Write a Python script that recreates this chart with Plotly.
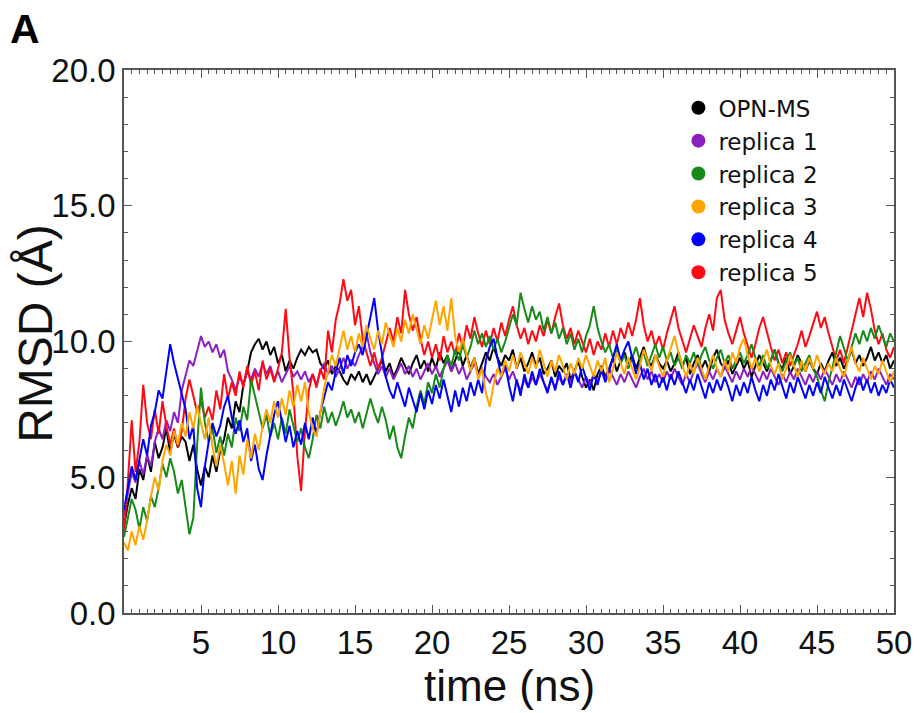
import plotly.graph_objects as go

# ---- data (RMSD in Å, sampled every 0.25 ns from 0 to 50 ns) ----
time_step_ns = 0.25
series_names = ["OPN-MS", "replica 1", "replica 2", "replica 3", "replica 4", "replica 5"]
series_colors = ["#000000", "#8B1FBF", "#178A17", "#FFA500", "#0000FF", "#FF0A14"]

opn_ms = [
    3.2, 4.0, 4.6, 4.2, 5.3, 4.9, 5.8, 5.2, 6.3, 5.7, 6.1, 6.8, 5.9, 6.6, 6.1, 6.5, 6.3, 5.6, 6.2, 5.3,
    4.7, 5.4, 5.0, 5.8, 5.2, 6.0, 6.4, 7.2, 6.8, 7.8, 7.4, 8.4, 8.9, 9.6, 9.9, 10.1, 9.7, 10.0, 9.5, 9.8,
    9.2, 9.5, 8.9, 9.3, 9.0, 9.4, 9.7, 9.5, 9.8, 9.6, 9.7, 9.2, 9.0, 9.3, 8.8, 9.1, 8.9, 8.6, 8.4, 8.8,
    8.6, 8.9, 8.5, 8.8, 8.4, 8.7, 9.0, 9.3, 8.9, 9.2, 8.7, 9.0, 9.4, 9.1, 8.8, 9.2, 9.5, 9.0, 9.3, 8.9,
    9.4, 9.0, 9.6, 9.2, 9.5, 8.9, 9.3, 9.7, 9.1, 9.5, 9.0, 9.4, 8.8, 9.2, 9.6, 9.3, 9.8, 9.4, 9.1, 9.5,
    9.3, 9.7, 9.0, 9.4, 8.9, 9.2, 9.6, 9.1, 9.4, 8.8, 9.0, 9.3, 8.7, 9.1, 8.9, 9.2, 8.6, 8.9, 9.3, 8.7,
    8.3, 8.6, 8.2, 8.8, 9.1, 8.7, 9.0, 9.4, 8.9, 9.3, 9.6, 9.2, 9.5, 9.0, 9.4, 9.8, 9.3, 9.1, 9.5, 9.2,
    9.0, 9.3, 8.9, 9.2, 9.6, 9.1, 9.4, 8.8, 9.2, 9.5, 9.0, 9.3, 8.9, 9.4, 9.7, 9.2, 9.0, 9.3, 8.8, 9.1,
    9.4, 9.0, 9.3, 8.7, 9.1, 9.5, 9.2, 8.9, 9.3, 9.7, 9.2, 9.0, 9.4, 8.8, 9.1, 9.5, 9.2, 8.9, 9.3, 9.0,
    8.8, 9.2, 8.9, 9.3, 9.6, 9.1, 9.4, 9.0, 9.3, 9.7, 9.2, 9.5, 9.1, 9.4, 9.8, 9.3, 9.6, 9.2, 9.5, 9.0, 9.3,
]

replica_1 = [
    3.6, 4.4, 5.2, 4.8, 5.6, 5.1, 5.8, 5.4, 6.3, 6.8, 6.4, 7.1, 6.7, 7.4, 7.0, 8.2, 8.8, 9.3, 9.1, 9.7,
    10.2, 9.8, 10.0, 9.6, 9.9, 9.4, 9.7, 8.9, 8.6, 8.2, 8.7, 8.4, 8.9, 8.6, 9.0, 8.7, 9.2, 8.8, 9.1, 8.6,
    8.9, 8.5, 8.8, 9.1, 8.7, 8.9, 8.6, 8.9, 8.5, 8.8, 8.4, 8.9, 9.2, 8.8, 9.1, 8.7, 9.0, 9.4, 9.0, 9.3,
    9.1, 9.5, 9.8, 10.3, 9.6, 9.2, 8.8, 9.1, 8.7, 9.0, 8.6, 8.9, 9.2, 8.8, 9.1, 8.7, 9.0, 8.6, 8.9, 9.2,
    8.8, 9.1, 8.7, 9.0, 9.3, 8.9, 9.2, 8.8, 9.1, 8.6, 8.9, 9.2, 8.8, 9.0, 8.7, 8.5, 8.8, 8.4, 8.7, 9.0,
    8.6, 8.9, 8.5, 8.2, 8.6, 8.3, 8.7, 8.4, 8.8, 8.5, 8.2, 8.6, 8.3, 8.7, 8.4, 8.8, 8.5, 8.9, 8.6, 8.3,
    8.7, 8.4, 8.8, 8.5, 8.9, 8.6, 9.0, 8.7, 8.4, 8.8, 8.5, 8.9, 8.6, 8.3, 8.7, 9.0, 8.6, 8.9, 8.5, 8.8,
    8.5, 8.9, 8.6, 9.0, 8.7, 8.4, 8.8, 8.5, 8.9, 9.2, 8.8, 8.5, 8.9, 8.6, 9.0, 8.7, 9.1, 8.8, 8.5, 8.9,
    8.6, 9.0, 8.7, 9.1, 8.8, 8.5, 8.9, 8.6, 9.0, 8.7, 8.4, 8.8, 8.5, 8.9, 8.6, 9.0, 8.7, 8.4, 8.8, 8.5,
    8.9, 8.6, 9.0, 8.7, 8.4, 8.8, 8.5, 8.9, 8.6, 8.3, 8.7, 8.4, 8.8, 8.5, 8.9, 8.6, 9.0, 8.7, 8.4, 8.8, 8.6,
]

replica_2 = [
    2.8, 3.5, 4.2, 3.8, 3.1, 3.9, 3.4, 4.3, 3.9, 4.6, 5.5, 5.0, 5.7, 5.2, 4.4, 4.9, 3.8, 2.9, 3.5, 6.2,
    8.3, 7.0, 6.3, 6.8, 5.9, 6.5, 5.8, 6.6, 6.1, 7.2, 6.7, 7.6, 7.1, 8.6, 8.0, 7.4, 6.8, 7.3, 6.5, 7.0,
    6.4, 7.2, 6.6, 7.5, 6.9, 6.3, 6.8, 6.1, 5.7, 6.4, 7.3, 6.8, 7.6, 7.0, 7.4, 6.9, 7.3, 7.8, 7.2, 7.5,
    7.0, 7.4, 6.8, 7.3, 7.9, 7.4, 7.0, 7.6, 7.1, 6.4, 6.9, 6.1, 5.7, 6.5, 7.2, 6.8, 7.6, 8.2, 7.7, 8.5,
    8.1, 8.8, 8.3, 9.0, 9.5, 9.1, 9.7, 9.3, 9.9, 9.4, 9.8, 10.4, 9.9, 10.3, 9.8, 10.2, 9.7, 10.1, 9.6, 10.0,
    10.5, 11.0, 10.6, 11.8, 11.2, 10.7, 11.3, 10.8, 11.1, 10.4, 10.9, 10.3, 10.7, 10.1, 10.5, 9.9, 10.3, 9.7, 10.1, 9.6,
    10.2, 10.6, 11.3, 10.5, 10.0, 9.6, 9.9, 9.4, 9.7, 9.2, 9.5, 9.0, 9.4, 9.8, 9.3, 9.6, 9.1, 9.5, 9.9, 9.4,
    9.8, 9.3, 9.6, 9.1, 9.4, 9.0, 9.5, 9.2, 9.6, 9.1, 9.5, 9.8, 9.3, 9.0, 9.4, 9.7, 9.2, 9.5, 9.0, 9.3,
    9.6, 9.2, 9.5, 9.9, 9.4, 9.1, 9.5, 9.0, 9.3, 9.7, 9.2, 8.9, 9.3, 9.6, 9.1, 9.4, 8.9, 9.2, 9.5, 9.0,
    8.7, 8.2, 7.8, 8.5, 9.0, 9.6, 10.2, 9.7, 9.3, 9.8, 10.3, 9.9, 10.4, 10.0, 10.5, 10.1, 10.6, 10.2, 9.8, 10.3, 10.0,
]

replica_3 = [
    2.6, 2.3, 3.0, 2.5, 3.2, 2.7, 3.4, 4.3, 5.0, 4.5, 5.6, 6.2, 5.8, 6.7, 6.2, 7.0, 6.5, 7.4, 6.8, 7.6,
    7.0, 6.4, 7.2, 6.1, 5.4, 6.2, 5.5, 4.7, 5.6, 4.4, 5.8, 5.1, 6.4, 5.7, 6.6, 6.0, 6.9, 7.5, 7.0, 7.8,
    7.2, 7.9, 7.3, 8.2, 7.6, 8.4, 7.8, 8.5, 7.4, 6.8, 6.5, 7.4, 8.3, 8.9, 9.5, 9.1, 9.8, 10.4, 9.7, 10.2,
    9.6, 10.3, 9.8, 10.6, 10.1, 9.7, 10.4, 9.9, 10.7, 10.2, 9.8, 10.5, 10.0, 10.8, 10.3, 11.0, 10.4, 9.9, 10.6, 10.1,
    10.8, 11.5, 10.6, 11.3, 10.4, 11.6, 10.2, 9.6, 10.1, 9.5, 8.9, 9.4, 8.6, 9.0, 8.1, 7.6, 8.4, 9.0, 8.7, 9.3,
    8.9, 9.5, 9.0, 9.6, 9.2, 8.8, 9.4, 9.0, 9.7, 9.2, 8.7, 9.3, 8.9, 9.5, 9.1, 8.6, 9.2, 8.8, 9.4, 9.0,
    9.5, 9.1, 8.7, 9.3, 8.9, 9.4, 8.5, 9.0, 9.6, 9.2, 8.8, 9.4, 9.0, 8.6, 9.1, 9.7, 9.3, 8.9, 9.5, 9.1,
    8.7, 9.3, 9.8, 10.2, 9.6, 9.1, 8.7, 9.2, 8.8, 9.4, 9.0, 8.6, 9.1, 9.5, 9.0, 8.7, 9.3, 8.9, 9.6, 9.2,
    9.8, 10.1, 9.5, 9.0, 9.4, 8.9, 9.3, 9.7, 9.1, 8.8, 9.2, 8.6, 9.0, 9.5, 9.1, 8.7, 9.3, 8.9, 9.4, 9.0,
    9.5, 9.1, 8.8, 9.2, 8.9, 9.4, 9.0, 8.7, 9.3, 9.8, 9.2, 8.9, 9.4, 9.0, 8.6, 9.1, 8.8, 9.3, 8.9, 8.5, 8.9,
]

replica_4 = [
    3.8, 4.6, 5.4, 4.9, 5.6, 6.4, 5.8, 6.9, 7.4, 8.2, 7.9, 9.0, 9.9, 9.2, 8.6, 8.1, 7.5, 6.4, 6.9, 4.6,
    3.9, 5.4, 6.3, 7.0, 6.5, 6.9, 7.6, 8.0, 7.2, 6.6, 7.1, 6.3, 6.8, 5.6, 6.2, 5.3, 4.9, 5.8, 6.5, 7.3,
    7.8, 7.0, 6.3, 6.9, 6.1, 6.7, 6.2, 7.0, 6.4, 7.2, 6.6, 7.4, 7.9, 8.5, 8.2, 8.9, 9.4, 8.8, 9.5, 9.1,
    9.6, 9.9, 9.5, 10.2, 10.8, 11.6, 10.4, 9.5, 8.7, 8.2, 7.9, 8.5, 8.0, 7.6, 8.3, 7.8, 7.4, 8.1, 7.5, 8.2,
    7.7, 8.4, 7.9, 8.6, 8.0, 7.4, 8.2, 7.6, 8.3, 7.8, 8.5, 8.0, 8.6, 8.1, 9.3, 9.8, 10.1, 9.4, 8.7, 9.2,
    8.4, 7.8, 8.6, 8.0, 8.8, 8.3, 8.9, 8.4, 9.0, 8.5, 8.1, 8.7, 8.2, 8.9, 8.4, 8.8, 8.3, 8.9, 8.5, 9.1,
    8.6, 8.2, 8.8, 8.4, 9.0, 8.5, 8.9, 9.4, 9.9, 9.3, 9.7, 10.0, 9.4, 8.8, 9.2, 8.6, 9.0, 8.4, 8.8, 8.3,
    8.7, 8.2, 8.8, 8.4, 8.9, 8.5, 8.1, 8.6, 8.2, 8.8, 8.3, 7.9, 8.5, 8.1, 8.6, 8.2, 8.7, 8.3, 7.8, 8.4,
    8.0, 8.5, 8.1, 8.7, 8.2, 7.8, 8.4, 8.0, 8.6, 8.2, 8.8, 8.3, 7.9, 8.5, 8.1, 8.7, 8.3, 7.9, 8.4, 8.0,
    8.5, 8.1, 8.7, 8.3, 7.9, 8.4, 8.0, 8.6, 8.2, 7.8, 8.3, 8.7, 8.2, 8.6, 8.1, 8.5, 8.0, 8.4, 8.1, 8.6, 8.3,
]

replica_5 = [
    3.0, 4.8, 7.1, 5.2, 6.3, 8.4, 7.0, 6.4, 7.5, 6.6, 7.8, 6.9, 6.2, 6.8, 6.1, 6.7, 7.9, 8.6, 8.0, 7.4,
    7.8, 7.2, 7.6, 7.1, 8.2, 7.5, 8.8, 7.9, 8.5, 8.0, 8.9, 8.3, 9.1, 8.4, 8.9, 8.2, 9.3, 8.6, 9.0, 8.5,
    9.0, 9.6, 11.2, 9.4, 8.1, 5.8, 4.5, 6.7, 8.2, 8.8, 8.3, 9.0, 8.6, 10.4, 9.6, 10.8, 11.4, 12.3, 11.5, 11.9,
    10.6, 11.3, 10.1, 9.6, 9.1, 9.6, 9.0, 9.4, 9.9, 10.5, 10.0, 10.9, 10.3, 11.9, 11.0, 10.4, 10.9, 10.1, 9.5, 10.0,
    9.4, 9.9, 9.3, 10.2, 9.6, 10.0, 9.5, 10.3, 9.8, 10.6, 10.1, 10.9, 10.3, 9.8, 10.4, 9.9, 10.5, 10.0, 10.7, 10.2,
    10.8, 11.3, 10.6, 10.1, 10.5, 9.9, 10.4, 10.0, 10.6, 10.2, 10.8, 10.3, 10.9, 11.4, 10.6, 10.1, 10.5, 9.9, 10.4, 10.0,
    9.6, 10.1, 9.5, 10.0, 9.7, 10.3, 9.8, 10.4, 9.9, 10.5, 10.1, 10.7, 10.2, 10.8, 11.6, 10.6, 10.0, 10.4, 9.8, 10.2,
    9.7, 10.3, 10.8, 11.3, 10.5, 10.0, 9.6, 10.1, 10.6, 10.2, 9.8, 10.5, 11.0, 10.4, 11.6, 11.9, 10.8, 10.3, 9.9, 10.4,
    10.9, 10.3, 9.8, 9.4, 9.9, 10.5, 10.9, 10.3, 9.8, 9.3, 9.7, 9.2, 9.6, 9.1, 9.5, 9.9, 10.4, 9.8, 10.2, 10.7,
    11.1, 10.5, 10.9, 10.3, 9.8, 9.3, 9.7, 9.2, 9.8, 10.4, 11.0, 11.6, 10.9, 11.8, 11.2, 10.4, 9.9, 10.3, 9.7, 9.4, 9.8,
]

x_tick_values = [5, 10, 15, 20, 25, 30, 35, 40, 45, 50]
y_tick_values = [0, 5, 10, 15, 20]
y_tick_labels = ["0.0", "5.0", "10.0", "15.0", "20.0"]

all_series = [opn_ms, replica_1, replica_2, replica_3, replica_4, replica_5]
draw_order = [0, 1, 5, 2, 4, 3]

fig = go.Figure()
for i in draw_order:
    vals = all_series[i]
    t = [k * time_step_ns for k in range(len(vals))]
    fig.add_trace(go.Scatter(
        x=t, y=vals, mode="lines", name=series_names[i],
        line=dict(color=series_colors[i], width=2),
        showlegend=False, hoverinfo="skip",
    ))
# legend entries (circle markers)
for i in range(len(series_names)):
    fig.add_trace(go.Scatter(
        x=[None], y=[None], mode="markers", name=series_names[i],
        marker=dict(color=series_colors[i], size=14, symbol="circle"),
    ))

axis_color = "#555555"
font_family = "Liberation Sans, Arial, sans-serif"
tick_font = dict(family=font_family, size=33, color="#111111")

fig.update_layout(
    width=924, height=713,
    margin=dict(l=124, r=23, t=70, b=100),
    paper_bgcolor="white", plot_bgcolor="white",
    showlegend=True,
    legend=dict(
        x=0.720, y=0.970, xanchor="left", yanchor="top",
        bgcolor="rgba(0,0,0,0)",
        font=dict(family="DejaVu Sans, sans-serif", size=23, color="#111111"),
        tracegroupgap=0, itemwidth=30,
    ),
    xaxis=dict(
        range=[0, 50], tickmode="array", tickvals=x_tick_values,
        ticks="inside", ticklen=8, tickwidth=1.3, tickcolor=axis_color,
        minor=dict(tickmode="linear", tick0=0, dtick=0.5, ticks="inside", ticklen=4, tickcolor=axis_color, tickwidth=1),
        showline=True, linecolor=axis_color, linewidth=1.6, mirror="ticks",
        showgrid=False, zeroline=False,
        tickfont=tick_font,
    ),
    yaxis=dict(
        range=[0, 20], tickmode="array", tickvals=y_tick_values, ticktext=y_tick_labels,
        ticks="inside", ticklen=8, tickwidth=1.3, tickcolor=axis_color,
        minor=dict(tickmode="linear", tick0=0, dtick=1, ticks="inside", ticklen=4, tickcolor=axis_color, tickwidth=1),
        showline=True, linecolor=axis_color, linewidth=1.6, mirror="ticks",
        showgrid=False, zeroline=False,
        tickfont=tick_font,
    ),
    annotations=[
        dict(
            text="<b>A</b>", xref="paper", yref="paper", x=-0.151, y=1.121,
            xanchor="left", yanchor="top", showarrow=False,
            font=dict(family=font_family, size=41, color="black"),
        ),
        dict(
            text="RMSD (Å)", xref="paper", yref="paper", x=-0.115, y=0.515,
            xanchor="center", yanchor="middle", textangle=-90, showarrow=False,
            font=dict(family=font_family, size=48, color="#111111"),
        ),
        dict(
            text="time (ns)", xref="paper", yref="paper", x=0.5, y=-0.133,
            xanchor="center", yanchor="middle", showarrow=False,
            font=dict(family=font_family, size=44, color="#111111"),
        ),
    ],
)

fig.write_html("out.html")
